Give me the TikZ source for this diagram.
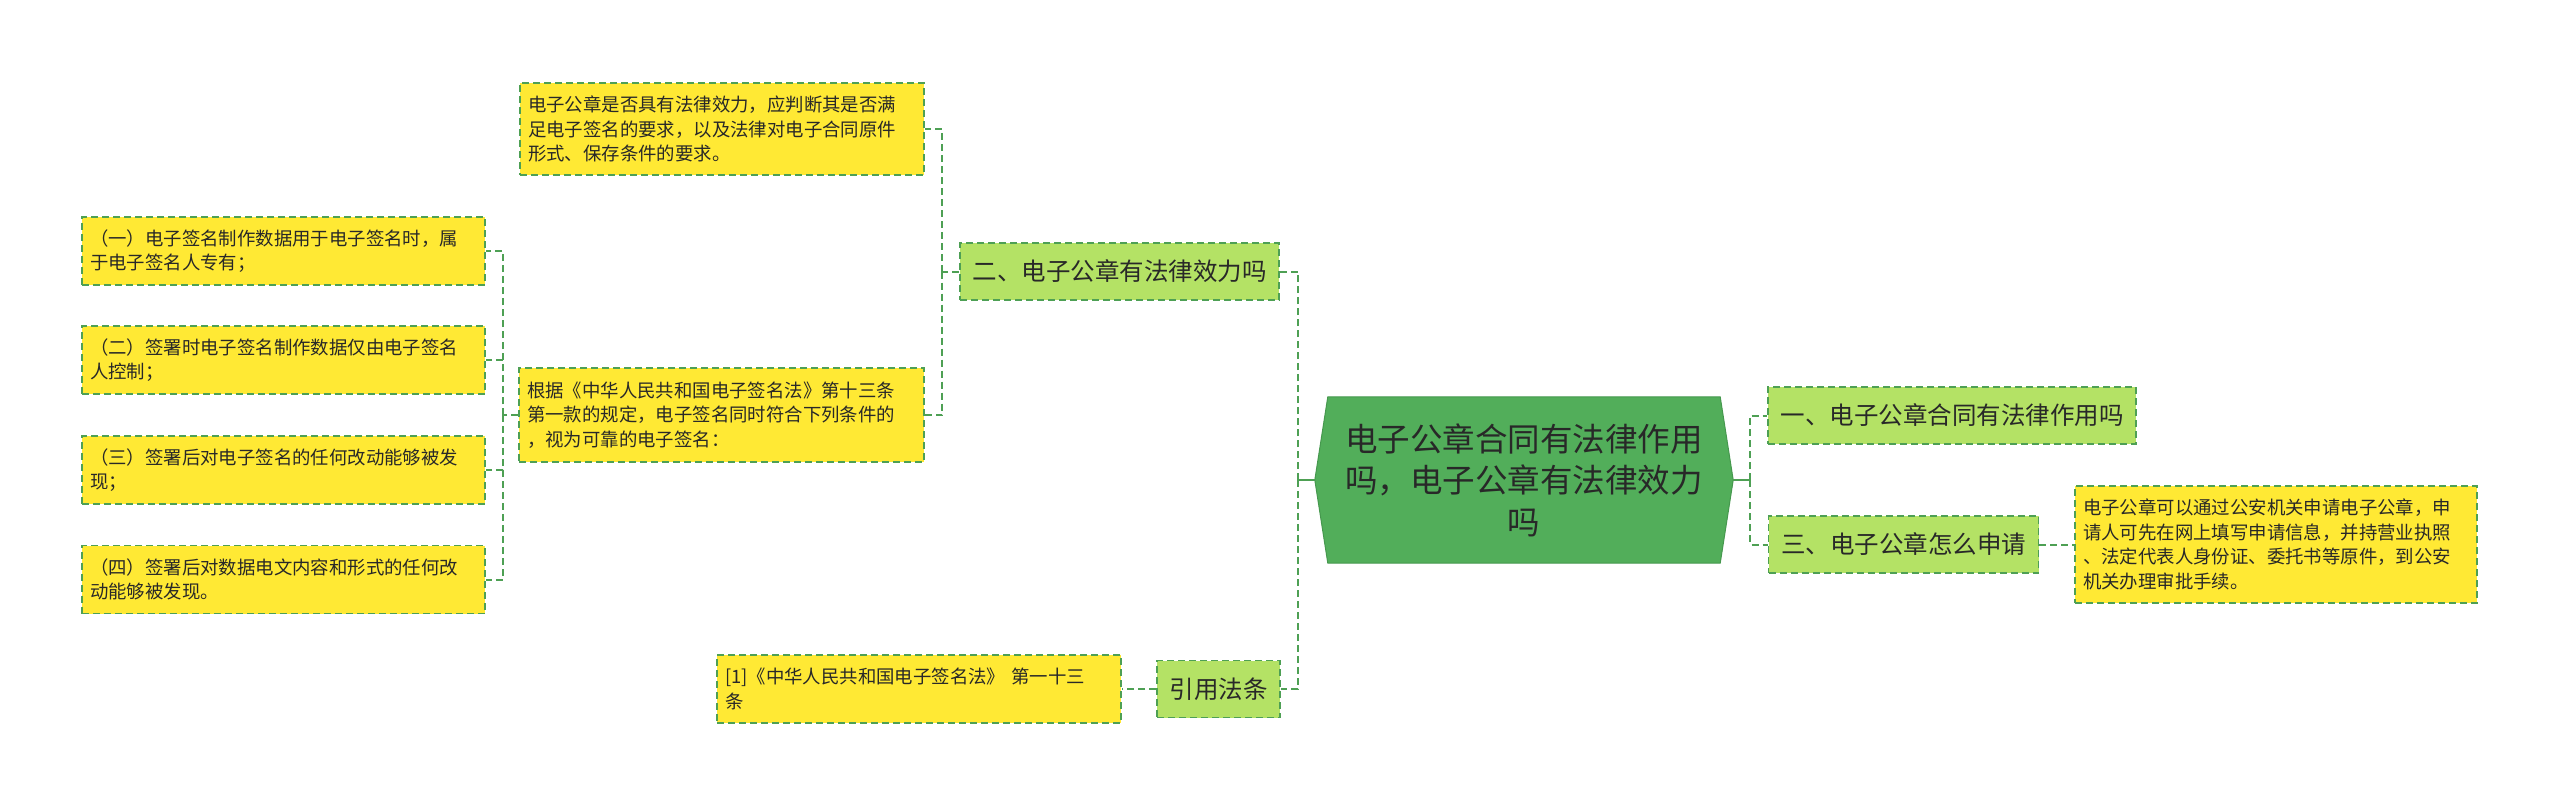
\documentclass[tikz,border=0pt]{standalone}
\usepackage{fontspec}
\newfontfamily\cjk{Noto Sans CJK SC}
\usetikzlibrary{backgrounds}
\definecolor{ylw}{RGB}{255,233,52}
\definecolor{lgr}{RGB}{180,226,101}
\definecolor{lnc}{RGB}{78,160,84}
\definecolor{rootg}{RGB}{82,174,90}
\definecolor{rootb}{RGB}{70,152,78}
\definecolor{txt}{RGB}{40,40,40}
\tikzset{
  ybox/.style={draw=lnc, line width=1.6pt, dash pattern=on 7pt off 4pt, fill=ylw, text=txt,
    font=\cjk\fontsize{18.4}{24.5}\selectfont, align=left, inner xsep=8pt, inner ysep=0pt},
  gbox/.style={draw=lnc, line width=1.6pt, dash pattern=on 7pt off 4pt, fill=lgr, text=txt,
    font=\cjk\fontsize{24.5}{30}\selectfont, inner xsep=12.5pt, inner ysep=0pt, minimum height=57pt},
  conn/.style={draw=lnc, line width=2pt, dash pattern=on 7pt off 4pt},
  stub/.style={draw=lnc, line width=2pt},
  roottext/.style={text=txt, font=\cjk\fontsize{32.5}{41.5}\selectfont, align=center,
    text width=380pt, minimum width=418pt, minimum height=166pt, inner sep=0pt},
}
\begin{document}
\begin{tikzpicture}[x=1pt,y=-1pt]
\useasboundingbox (0,0) rectangle (2560,806);

% root
\node[roottext] (root) at (1524,480) {电子公章合同有法律作用\\吗，电子公章有法律效力\\吗};
\begin{scope}[on background layer]
\fill[white] (0,0) rectangle (2560,806);
\filldraw[fill=rootg, draw=rootb, line width=1pt]
  (root.west) -- ([xshift=13pt]root.north west) -- ([xshift=-13pt]root.north east)
  -- (root.east) -- ([xshift=-13pt]root.south east) -- ([xshift=13pt]root.south west) -- cycle;
\end{scope}

% level 1
\node[gbox] (er) at (1119.5,271.5) {二、电子公章有法律效力吗};
\node[gbox] (yy) at (1218.5,689) {引用法条};
\node[gbox] (yi) at (1952,415.5) {一、电子公章合同有法律作用吗};
\node[gbox] (san) at (1903.5,544.5) {三、电子公章怎么申请};

% yellow boxes
\node[ybox, text width=388pt, minimum height=92pt] (tb) at (722,129)
  {电子公章是否具有法律效力，应判断其是否满\\足电子签名的要求，以及法律对电子合同原件\\形式、保存条件的要求。};
\node[ybox, text width=389pt, minimum height=94pt] (gj) at (721.5,415)
  {根据《中华人民共和国电子签名法》第十三条\\第一款的规定，电子签名同时符合下列条件的\\，视为可靠的电子签名：};
\node[ybox, text width=387pt, minimum height=68pt] (l1) at (283.5,251)
  {（一）电子签名制作数据用于电子签名时，属\\于电子签名人专有；};
\node[ybox, text width=387pt, minimum height=68pt] (l2) at (283.5,360)
  {（二）签署时电子签名制作数据仅由电子签名\\人控制；};
\node[ybox, text width=387pt, minimum height=68pt] (l3) at (283.5,470)
  {（三）签署后对电子签名的任何改动能够被发\\现；};
\node[ybox, text width=387pt, minimum height=68pt] (l4) at (283.5,579.5)
  {（四）签署后对数据电文内容和形式的任何改\\动能够被发现。};
\node[ybox, text width=388pt, minimum height=68pt] (ref) at (919,689)
  {[1]《中华人民共和国电子签名法》 第一十三\\条};
\node[ybox, text width=386pt, minimum height=117pt] (ry) at (2276,544.5)
  {电子公章可以通过公安机关申请电子公章，申\\请人可先在网上填写申请信息，并持营业执照\\、法定代表人身份证、委托书等原件，到公安\\机关办理审批手续。};

% trunks
\coordinate (tL) at (1298,480);
\coordinate (tR) at (1750,480);
\coordinate (tE) at (942,272);
\coordinate (tG) at (503,415);

\draw[stub] (root.west) -- (root.west -| tL);
\draw[conn] (root.west -| tL) |- (er.east);
\draw[conn] (root.west -| tL) |- (yy.east);

\draw[stub] (root.east) -- (root.east -| tR);
\draw[conn] (root.east -| tR) |- (yi.west);
\draw[conn] (root.east -| tR) |- (san.west);

\draw[conn] (er.west) -- (er.west -| tE);
\draw[conn] (er.west -| tE) |- (tb.east);
\draw[conn] (er.west -| tE) |- (gj.east);

\draw[conn] (gj.west) -- (gj.west -| tG);
\draw[conn] (gj.west -| tG) |- (l1.east);
\draw[conn] (gj.west -| tG) |- (l2.east);
\draw[conn] (gj.west -| tG) |- (l3.east);
\draw[conn] (gj.west -| tG) |- (l4.east);

\draw[conn] (san.east) -- (ry.west);
\draw[conn] (yy.west) -- (ref.east);
\end{tikzpicture}
\end{document}
